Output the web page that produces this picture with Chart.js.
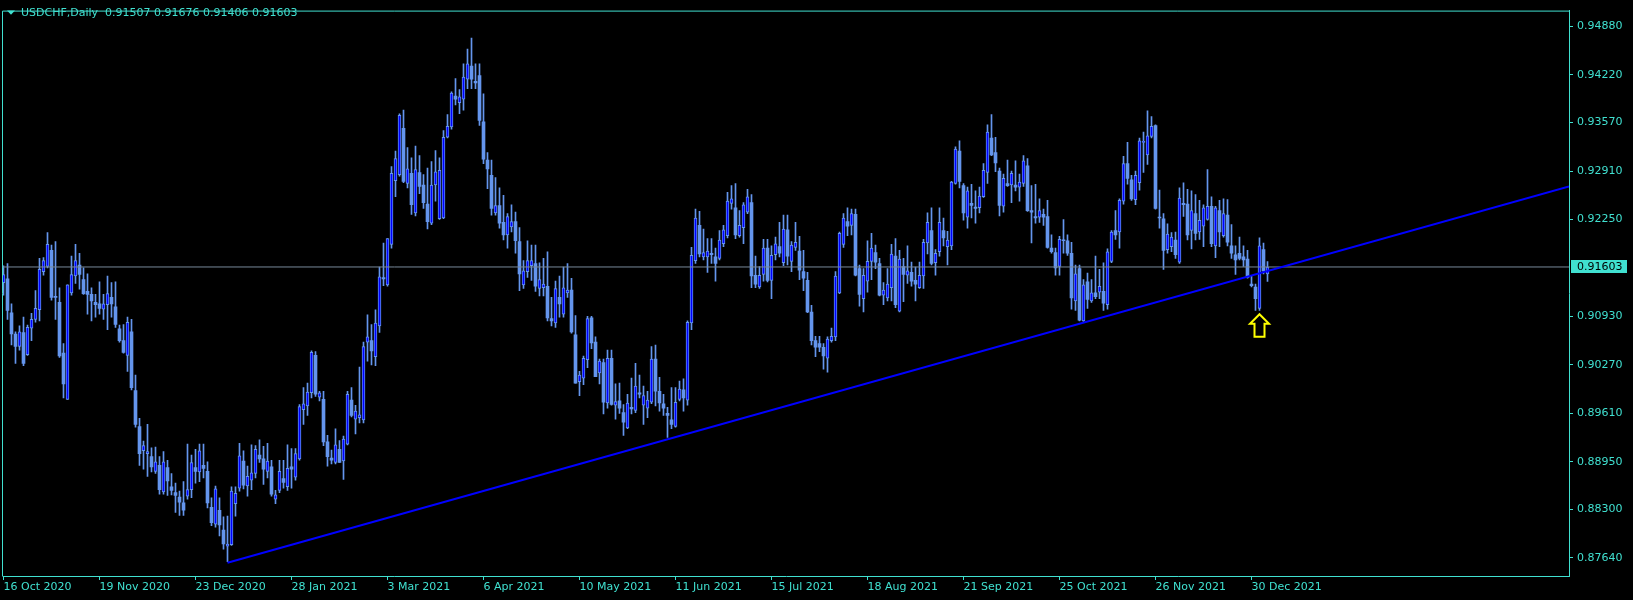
<!DOCTYPE html>
<html>
<head>
<meta charset="utf-8">
<script src="https://cdn.jsdelivr.net/npm/chart.js@4.4.1/dist/chart.umd.min.js"></script>
<style>
html,body{margin:0;padding:0;background:#000;}
#wrap{width:1633px;height:600px;position:relative;background:#000;}
canvas{display:block;}
</style>
</head>
<body>
<div id="wrap"><canvas id="c" width="1633" height="600"></canvas></div>
<script>
// ---------------- data ----------------
const symbolTitle = 'USDCHF,Daily';
const titleQuote = ['0.91507', '0.91676', '0.91406', '0.91603'];

const opens = [
.9139,.9144,.9098,.9069,.9052,.9071,.9041,.9077,.9089,.9102,
.9154,.9161,.9183,.9120,.9112,.9043,.8980,.9125,.9148,.9163,
.9143,.9127,.9123,.9112,.9110,.9103,.9109,.9119,.9106,.9076,
.9060,.9040,.9072,.8992,.8943,.8910,.8906,.8902,.8882,.8890,
.8854,.8887,.8861,.8853,.8847,.8839,.8848,.8857,.8887,.8881,
.8890,.8882,.8833,.8810,.8829,.8802,.8780,.8782,.8838,.8859,
.8896,.8862,.8870,.8879,.8904,.8899,.8882,.8888,.8844,.8856,
.8872,.8861,.8888,.8874,.8899,.8966,.8971,.8989,.9040,.8983,
.8980,.8922,.8900,.8894,.8912,.8896,.8919,.8979,.8953,.8955,
.8952,.9058,.9060,.9038,.9080,.9146,.9136,.9191,.9278,.9286,
.9349,.9274,.9288,.9234,.9289,.9272,.9246,.9220,.9272,.9226,
.9227,.9337,.9351,.9393,.9384,.9389,.9416,.9434,.9413,.9421,
.9358,.9306,.9285,.9234,.9244,.9221,.9204,.9215,.9222,.9195,
.9136,.9154,.9162,.9165,.9131,.9132,.9134,.9090,.9084,.9119,
.9096,.9125,.9129,.9068,.9004,.9009,.9034,.9091,.9058,.9016,
.9030,.8975,.9036,.8972,.8978,.8962,.8941,.8969,.8965,.8989,
.8972,.8968,.8976,.9035,.8991,.8974,.8961,.8952,.8943,.8980,
.8993,.8979,.9084,.9169,.9217,.9174,.9174,.9179,.9174,.9172,
.9192,.9203,.9247,.9241,.9203,.9214,.9235,.9248,.9149,.9133,
.9150,.9186,.9142,.9177,.9188,.9166,.9211,.9168,.9187,.9182,
.9154,.9142,.9099,.9060,.9056,.9051,.9036,.9060,.9065,.9125,
.9191,.9222,.9217,.9232,.9158,.9117,.9141,.9168,.9180,.9165,
.9122,.9118,.9132,.9175,.9100,.9161,.9149,.9153,.9142,.9132,
.9148,.9193,.9210,.9166,.9181,.9210,.9188,.9189,.9274,.9318,
.9271,.9228,.9247,.9242,.9241,.9256,.9289,.9336,.9316,.9291,
.9243,.9274,.9272,.9272,.9269,.9274,.9298,.9237,.9229,.9228,
.9232,.9229,.9186,.9180,.9161,.9197,.9196,.9179,.9114,.9158,
.9087,.9140,.9114,.9125,.9126,.9127,.9109,.9168,.9210,.9208,
.9250,.9301,.9279,.9252,.9275,.9330,.9313,.9338,.9353,.9228,
.9226,.9184,.9188,.9197,.9167,.9247,.9246,.9210,.9233,.9208,
.9216,.9225,.9243,.9189,.9237,.9203,.9231,.9189,.9177,.9179,
.9174,.9171,.9137,.9133,.9104,.9184,.91507
];
const highs = [
.9162,.9165,.9110,.9072,.9080,.9092,.9081,.9097,.9128,.9172,
.9173,.9207,.9190,.9195,.9132,.9056,.9136,.9175,.9191,.9179,
.9159,.9151,.9132,.9123,.9140,.9123,.9148,.9139,.9140,.9081,
.9082,.9092,.9089,.9013,.8954,.8923,.8946,.8914,.8915,.8902,
.8909,.8897,.8879,.8866,.8855,.8868,.8919,.8904,.8912,.8919,
.8919,.8895,.8846,.8862,.8846,.8820,.8821,.8861,.8861,.8920,
.8910,.8889,.8918,.8917,.8925,.8916,.8920,.8897,.8856,.8897,
.8897,.8918,.8913,.8913,.8973,.8996,.9002,.9046,.9045,.8991,
.8991,.8931,.8911,.8940,.8924,.8930,.8991,.8996,.8972,.9024,
.9058,.9095,.9082,.9102,.9160,.9193,.9199,.9297,.9318,.9369,
.9374,.9323,.9309,.9325,.9312,.9286,.9295,.9304,.9319,.9309,
.9346,.9368,.9399,.9417,.9402,.9437,.9457,.9472,.9437,.9437,
.9396,.9316,.9306,.9282,.9268,.9258,.9233,.9245,.9235,.9214,
.9169,.9196,.9190,.9190,.9166,.9172,.9181,.9119,.9141,.9148,
.9160,.9165,.9145,.9094,.9018,.9039,.9093,.9093,.9065,.9035,
.9035,.9047,.9047,.9001,.9002,.8973,.8987,.9009,.9029,.9013,
.8998,.8991,.9052,.9054,.9010,.8987,.8969,.8996,.8996,.9005,
.9008,.9087,.9187,.9239,.9236,.9212,.9199,.9199,.9186,.9210,
.9217,.9262,.9271,.9274,.9237,.9248,.9266,.9259,.9175,.9161,
.9198,.9198,.9189,.9201,.9221,.9231,.9231,.9195,.9221,.9202,
.9183,.9153,.9108,.9066,.9066,.9056,.9065,.9077,.9154,.9208,
.9233,.9241,.9239,.9239,.9163,.9158,.9196,.9206,.9190,.9172,
.9139,.9158,.9191,.9199,.9183,.9172,.9189,.9167,.9160,.9167,
.9198,.9234,.9241,.9184,.9241,.9227,.9209,.9277,.9324,.9332,
.9274,.9269,.9273,.9264,.9269,.9301,.9354,.9368,.9337,.9295,
.9287,.9306,.9291,.9305,.9287,.9312,.9308,.9271,.9273,.9253,
.9239,.9251,.9204,.9186,.9202,.9225,.9204,.9194,.9163,.9163,
.9143,.9152,.9143,.9175,.9157,.9166,.9185,.9210,.9237,.9253,
.9311,.9330,.9285,.9291,.9336,.9344,.9373,.9365,.9354,.9265,
.9233,.9219,.9207,.9208,.9268,.9275,.9266,.9264,.9259,.9251,
.9245,.9293,.9256,.9243,.9251,.9253,.9252,.9218,.9189,.9201,
.9189,.9183,.9148,.9137,.9200,.9193,.91676
];
const lows = [
.9122,.9089,.9054,.9029,.9047,.9026,.9040,.9060,.9085,.9087,
.9149,.9159,.9115,.9089,.9037,.8982,.8980,.9122,.9138,.9130,
.9123,.9096,.9087,.9092,.9096,.9089,.9075,.9092,.9078,.9058,
.9043,.9018,.8993,.8942,.8890,.8885,.8875,.8881,.8879,.8851,
.8851,.8849,.8850,.8826,.8822,.8822,.8844,.8846,.8866,.8868,
.8873,.8832,.8808,.8806,.8794,.8776,.8759,.8781,.8821,.8855,
.8858,.8848,.8857,.8873,.8894,.8864,.8873,.8848,.8838,.8853,
.8859,.8856,.8859,.8870,.8897,.8946,.8958,.8982,.8984,.8978,
.8917,.8889,.8892,.8892,.8894,.8871,.8918,.8956,.8933,.8948,
.8948,.9032,.9027,.9026,.9071,.9135,.9134,.9186,.9256,.9284,
.9275,.9268,.9232,.9230,.9260,.9240,.9212,.9218,.9250,.9225,
.9226,.9336,.9348,.9381,.9369,.9374,.9403,.9403,.9403,.9353,
.9301,.9267,.9231,.9231,.9213,.9197,.9186,.9208,.9179,.9128,
.9131,.9146,.9142,.9127,.9121,.9121,.9087,.9080,.9078,.9092,
.9092,.9119,.9070,.9002,.8985,.9000,.9023,.9049,.9011,.9001,
.8960,.8968,.8972,.8953,.8961,.8931,.8940,.8960,.8962,.8982,
.8946,.8955,.8974,.8971,.8964,.8958,.8928,.8940,.8942,.8978,
.8964,.8972,.9075,.9165,.9174,.9170,.9153,.9165,.9141,.9170,
.9188,.9200,.9239,.9199,.9201,.9192,.9233,.9132,.9132,.9131,
.9141,.9140,.9117,.9170,.9174,.9162,.9163,.9154,.9183,.9143,
.9128,.9098,.9054,.9038,.9045,.9021,.9017,.9058,.9060,.9124,
.9187,.9203,.9204,.9148,.9107,.9099,.9126,.9143,.9158,.9121,
.9109,.9114,.9114,.9105,.9099,.9113,.9138,.9134,.9114,.9131,
.9131,.9178,.9163,.9149,.9175,.9189,.9163,.9184,.9273,.9268,
.9224,.9213,.9227,.9220,.9234,.9255,.9274,.9312,.9290,.9230,
.9235,.9270,.9248,.9264,.9250,.9270,.9236,.9193,.9220,.9221,
.9217,.9186,.9179,.9149,.9149,.9179,.9176,.9103,.9101,.9087,
.9086,.9104,.9112,.9117,.9117,.9101,.9103,.9166,.9198,.9186,
.9246,.9273,.9251,.9245,.9265,.9289,.9300,.9336,.9239,.9213,
.9157,.9179,.9181,.9172,.9165,.9229,.9197,.9185,.9197,.9198,
.9188,.9224,.9188,.9173,.9188,.9201,.9189,.9172,.9150,.9170,
.9161,.9145,.9133,.9101,.9101,.9151,.91406
];
const closes = [
.9150,.9101,.9069,.9052,.9072,.9029,.9078,.9089,.9104,.9157,
.9169,.9191,.9119,.9119,.9039,.9001,.9136,.9150,.9169,.9150,
.9124,.9123,.9114,.9109,.9104,.9110,.9124,.9110,.9082,.9060,
.9044,.9085,.8996,.8946,.8906,.8917,.8909,.8888,.8895,.8857,
.8895,.8869,.8856,.8849,.8840,.8829,.8857,.8894,.8882,.8910,
.8886,.8839,.8812,.8858,.8809,.8783,.8783,.8855,.8852,.8903,
.8863,.8875,.8880,.8912,.8899,.8885,.8896,.8851,.8850,.8882,
.8867,.8886,.8885,.8906,.8970,.8974,.8990,.9044,.8987,.8989,
.8922,.8902,.8897,.8918,.8894,.8926,.8987,.8958,.8964,.8959,
.9052,.9065,.9046,.9084,.9147,.9144,.9199,.9288,.9308,.9367,
.9277,.9294,.9245,.9293,.9270,.9248,.9222,.9272,.9290,.9292,
.9337,.9352,.9397,.9389,.9392,.9419,.9437,.9416,.9411,.9360,
.9307,.9294,.9240,.9244,.9220,.9204,.9229,.9222,.9196,.9151,
.9155,.9169,.9169,.9134,.9143,.9137,.9091,.9087,.9131,.9110,
.9132,.9129,.9072,.9002,.9013,.9036,.9090,.9057,.9011,.9032,
.8976,.9036,.8973,.8977,.8968,.8949,.8975,.8967,.8998,.8987,
.8985,.8979,.9035,.8991,.8975,.8968,.8958,.8946,.8976,.8994,
.8982,.9085,.9176,.9227,.9178,.9180,.9182,.9177,.9165,.9197,
.9211,.9250,.9253,.9204,.9217,.9245,.9256,.9148,.9137,.9149,
.9186,.9142,.9176,.9192,.9179,.9212,.9175,.9190,.9194,.9156,
.9145,.9099,.9060,.9051,.9051,.9039,.9062,.9066,.9148,.9206,
.9227,.9216,.9233,.9149,.9123,.9149,.9168,.9186,.9167,.9122,
.9129,.9137,.9178,.9109,.9171,.9150,.9155,.9141,.9137,.9149,
.9194,.9221,.9165,.9179,.9221,.9200,.9197,.9276,.9321,.9277,
.9234,.9264,.9244,.9240,.9257,.9292,.9344,.9313,.9302,.9244,
.9281,.9271,.9288,.9269,.9276,.9305,.9237,.9235,.9227,.9237,
.9228,.9187,.9181,.9159,.9198,.9196,.9179,.9118,.9151,.9088,
.9136,.9116,.9125,.9120,.9134,.9111,.9181,.9208,.9204,.9251,
.9301,.9281,.9253,.9285,.9332,.9331,.9339,.9352,.9240,.9227,
.9183,.9205,.9201,.9177,.9254,.9245,.9204,.9237,.9206,.9224,
.9241,.9243,.9192,.9241,.9208,.9233,.9194,.9179,.9170,.9172,
.9170,.9146,.9135,.9117,.9189,.9155,.91603
];

const xTickIndex = [0, 24, 48, 72, 96, 120, 144, 168, 192, 216, 240, 264, 288, 312];
const xTickLabels = ['16 Oct 2020', '19 Nov 2020', '23 Dec 2020', '28 Jan 2021', '3 Mar 2021',
  '6 Apr 2021', '10 May 2021', '11 Jun 2021', '15 Jul 2021', '18 Aug 2021', '21 Sep 2021',
  '25 Oct 2021', '26 Nov 2021', '30 Dec 2021'];
const yTickValues = [0.94880, 0.94220, 0.93570, 0.92910, 0.92250, 0.90930, 0.90270, 0.89610, 0.88950, 0.88300, 0.87640];
const yTickLabels = ['0.94880', '0.94220', '0.93570', '0.92910', '0.92250', '0.90930', '0.90270', '0.89610', '0.88950', '0.88300', '0.87640'];

const currentPrice = 0.91603;
const trendLine = [{x: 56, y: 0.87575}, {x: 391.375, y: 0.92700}];
const arrowMark = {index: 314, top: 0.9098, bottom: 0.9064};

const xMin = -0.125, xMax = 391.375;
const yMin = 0.87394, yMax = 0.95095;

// ---------------- style ----------------
const TEAL = '#40E0D0';
const BAR_COLOR = '#6495ED';
const BULL_FILL = '#0000FF';
const FONT = 'DejaVu Sans';
Chart.defaults.font.family = FONT;
Chart.defaults.font.size = 11;

const isBull = i => i !== undefined && closes[i] >= opens[i];
const bodies = opens.map((o, i) => ({x: i, y: [o, closes[i]]}));
const wicks = opens.map((o, i) => ({x: i, y: [lows[i], highs[i]]}));

const overlay = {
  id: 'overlay',
  afterDraw(chart) {
    const {ctx, chartArea: a, scales: {x, y}} = chart;
    ctx.save();
    // frame (left + top)
    ctx.strokeStyle = TEAL; ctx.lineWidth = 1;
    ctx.beginPath();
    ctx.moveTo(a.left - 0.5, a.bottom + 0.5);
    ctx.lineTo(a.left - 0.5, a.top + 0.5);
    ctx.lineTo(a.right + 0.5, a.top + 0.5);
    ctx.stroke();
    // title
    ctx.fillStyle = TEAL;
    ctx.beginPath();
    ctx.moveTo(7, 10.5); ctx.lineTo(15, 10.5); ctx.lineTo(11, 14.8); ctx.closePath(); ctx.fill();
    ctx.font = '11px "' + FONT + '"';
    ctx.textBaseline = 'middle'; ctx.textAlign = 'left';
    ctx.fillText(symbolTitle + '  ' + titleQuote.join(' '), 21, 13);
    // current price box
    const py = y.getPixelForValue(currentPrice);
    ctx.fillStyle = TEAL;
    ctx.fillRect(a.right + 2, Math.round(py - 6.5), 56, 13);
    ctx.fillStyle = '#000';
    ctx.fillText(currentPrice.toFixed(5), a.right + 8, py);
    // arrow
    const ax = x.getPixelForValue(arrowMark.index);
    const at = y.getPixelForValue(arrowMark.top);
    const ab = y.getPixelForValue(arrowMark.bottom);
    const hh = (ab - at) * 0.44;
    ctx.beginPath();
    ctx.moveTo(ax, at + 1.5);
    ctx.lineTo(ax + 9.5, at + hh);
    ctx.lineTo(ax + 5, at + hh);
    ctx.lineTo(ax + 5, ab - 1);
    ctx.lineTo(ax - 5, ab - 1);
    ctx.lineTo(ax - 5, at + hh);
    ctx.lineTo(ax - 9.5, at + hh);
    ctx.closePath();
    ctx.fillStyle = '#000'; ctx.fill();
    ctx.strokeStyle = '#FFFF00'; ctx.lineWidth = 2; ctx.lineJoin = 'miter';
    ctx.stroke();
    ctx.restore();
  }
};

new Chart(document.getElementById('c'), {
  type: 'bar',
  data: {
    datasets: [
      {type: 'line', data: trendLine, borderColor: '#0000FF', borderWidth: 2, pointRadius: 0, order: 0, tension: 0},
      {type: 'line', data: [{x: xMin, y: currentPrice}, {x: xMax, y: currentPrice}], borderColor: '#778899', borderWidth: 1, pointRadius: 0, order: 1},
      {type: 'bar', data: bodies,
        backgroundColor: c => isBull(c.dataIndex) ? BULL_FILL : BAR_COLOR,
        borderColor: BAR_COLOR,
        borderWidth: c => isBull(c.dataIndex) ? 1 : 0,
        borderSkipped: false, barThickness: 3, grouped: false, minBarLength: 1, order: 2},
      {type: 'bar', data: wicks, backgroundColor: BAR_COLOR, borderWidth: 0,
        barThickness: 1, grouped: false, minBarLength: 1, order: 3}
    ]
  },
  options: {
    responsive: false, animation: false, events: [], devicePixelRatio: 1,
    layout: {padding: {left: 3, top: 2, right: 0, bottom: 0}},
    plugins: {legend: {display: false}, tooltip: {enabled: false}, title: {display: false}},
    scales: {
      x: {
        type: 'linear', min: xMin, max: xMax, offset: false, position: 'bottom',
        afterBuildTicks: s => { s.ticks = xTickIndex.map(v => ({value: v})); },
        afterFit: s => { s.height = 24; },
        ticks: {autoSkip: false, maxRotation: 0, minRotation: 0, align: 'start', padding: 1, color: TEAL,
          font: {family: FONT, size: 11},
          callback: v => { const k = xTickIndex.indexOf(v); return k >= 0 ? xTickLabels[k] : ''; }},
        grid: {offset: false, drawOnChartArea: false, drawTicks: true, tickLength: 4, color: TEAL, tickColor: TEAL},
        border: {display: true, color: TEAL}
      },
      y: {
        type: 'linear', position: 'right', min: yMin, max: yMax,
        afterBuildTicks: s => { s.ticks = yTickValues.map(v => ({value: v})); },
        afterFit: s => { s.width = 64; },
        ticks: {color: TEAL, padding: 4, font: {family: FONT, size: 11},
          callback: v => { const k = yTickValues.indexOf(v); return k >= 0 ? yTickLabels[k] : ''; }},
        grid: {drawOnChartArea: false, drawTicks: true, tickLength: 4, color: TEAL, tickColor: TEAL},
        border: {display: true, color: TEAL}
      }
    }
  },
  plugins: [overlay]
});
</script>
</body>
</html>
